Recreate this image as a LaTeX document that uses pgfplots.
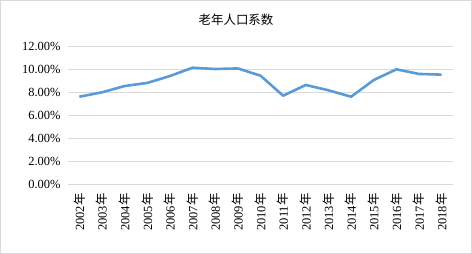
\documentclass[border=0pt]{standalone}
\usepackage{fontspec}
\setmainfont{Liberation Serif}
\newfontfamily\cjk{Noto Sans CJK SC}
\usepackage{pgfplots}
\pgfplotsset{compat=1.18}
\definecolor{lineblue}{RGB}{91,155,213}
\definecolor{gridgray}{RGB}{217,217,217}
\newcommand{\nian}{{\cjk 年}}
\begin{document}
\begin{tikzpicture}
\draw[gridgray,line width=0.8bp] (0.4bp,0.4bp) rectangle (471.6bp,253.6bp);
\node[font=\cjk\fontsize{12.5}{14}\selectfont] at (236bp,234bp) {老年人口系数};
\begin{axis}[
  at={(68bp,70bp)}, anchor=south west,
  scale only axis, width=385bp, height=138bp,
  xmin=-0.5, xmax=16.5, ymin=0, ymax=12,
  xtick={0,...,16},
  xticklabels={2002\nian,2003\nian,2004\nian,2005\nian,2006\nian,2007\nian,2008\nian,2009\nian,2010\nian,2011\nian,2012\nian,2013\nian,2014\nian,2015\nian,2016\nian,2017\nian,2018\nian},
  x tick label style={rotate=90, anchor=east, font=\fontsize{12.5}{14}\selectfont},
  ytick={0,2,...,12},
  yticklabel={\pgfmathprintnumber[fixed,fixed zerofill,precision=2]{\tick}\%},
  y tick label style={font=\fontsize{12.5}{14}\selectfont},
  /pgf/number format/assume math mode=true,
  ymajorgrids, grid style={gridgray, line width=0.8bp},
  axis line style={draw=none},
  major tick length=0pt,
  xticklabel shift=6bp, yticklabel shift=4bp,
  clip=false,
]
\addplot[lineblue, line width=2.6bp, line join=round] coordinates {
(0,7.59) (1,7.97) (2,8.52) (3,8.79) (4,9.39) (5,10.11) (6,10.00) (7,10.05) (8,9.42)
(9,7.68) (10,8.61) (11,8.15) (12,7.59) (13,9.04) (14,9.97) (15,9.57) (16,9.51)
};
\end{axis}
\end{tikzpicture}
\end{document}
